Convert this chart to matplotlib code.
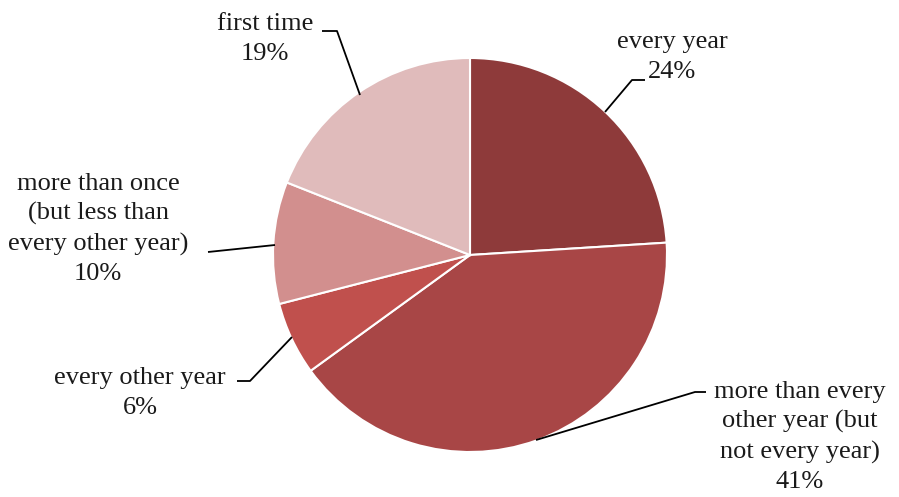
import matplotlib
matplotlib.use("Agg")
import matplotlib.pyplot as plt

categories = ["every year", "more than every\nother year (but\nnot every year)", "every other year",
              "more than once\n(but less than\nevery other year)", "first time"]
values = [24, 41, 6, 10, 19]
colors = ["#8E3A3A", "#A84646", "#C0504D", "#D28F8E", "#E0BBBB"]

W, H = 899, 497
fig = plt.figure(figsize=(W / 100, H / 100), dpi=100)
ax = fig.add_axes([0, 0, 1, 1])

cx, cy, r = 470, 255, 197
# y axis is inverted (pixel-like coords), so counterclock in data = clockwise on screen
wedges, _ = ax.pie(values, colors=colors, startangle=-90, counterclock=True,
                   center=(cx, cy), radius=r, frame=True,
                   wedgeprops=dict(edgecolor="white", linewidth=1.5))
ax.set_xlim(0, W)
ax.set_ylim(H, 0)
ax.set_aspect("equal")
ax.axis("off")

font = dict(family=["Liberation Serif", "DejaVu Serif"], fontsize=19, color="#1a1a1a",
            ha="center", va="center", linespacing=1.42)

labels = [f"{c}\n{v}%" for c, v in zip(categories, values)]
# label text centres and leader lines (pixel coords, y down)
label_pos = [(672, 57), (800, 437), (140, 393), (98, 229), (265, 39)]
leaders = [
    [(645, 80), (632, 80), (605, 112)],
    [(706, 392), (695, 392), (536, 440)],
    [(237, 381), (250, 381), (292, 337)],
    [(208, 252), (275, 245)],
    [(322, 31), (337, 31), (360, 95)],
]
for lab, pos, ld in zip(labels, label_pos, leaders):
    ax.text(pos[0], pos[1], lab, **font)
    xs, ys = zip(*ld)
    ax.plot(xs, ys, color="black", lw=1.3, solid_capstyle="butt")

fig.savefig("out.png", dpi=100)
